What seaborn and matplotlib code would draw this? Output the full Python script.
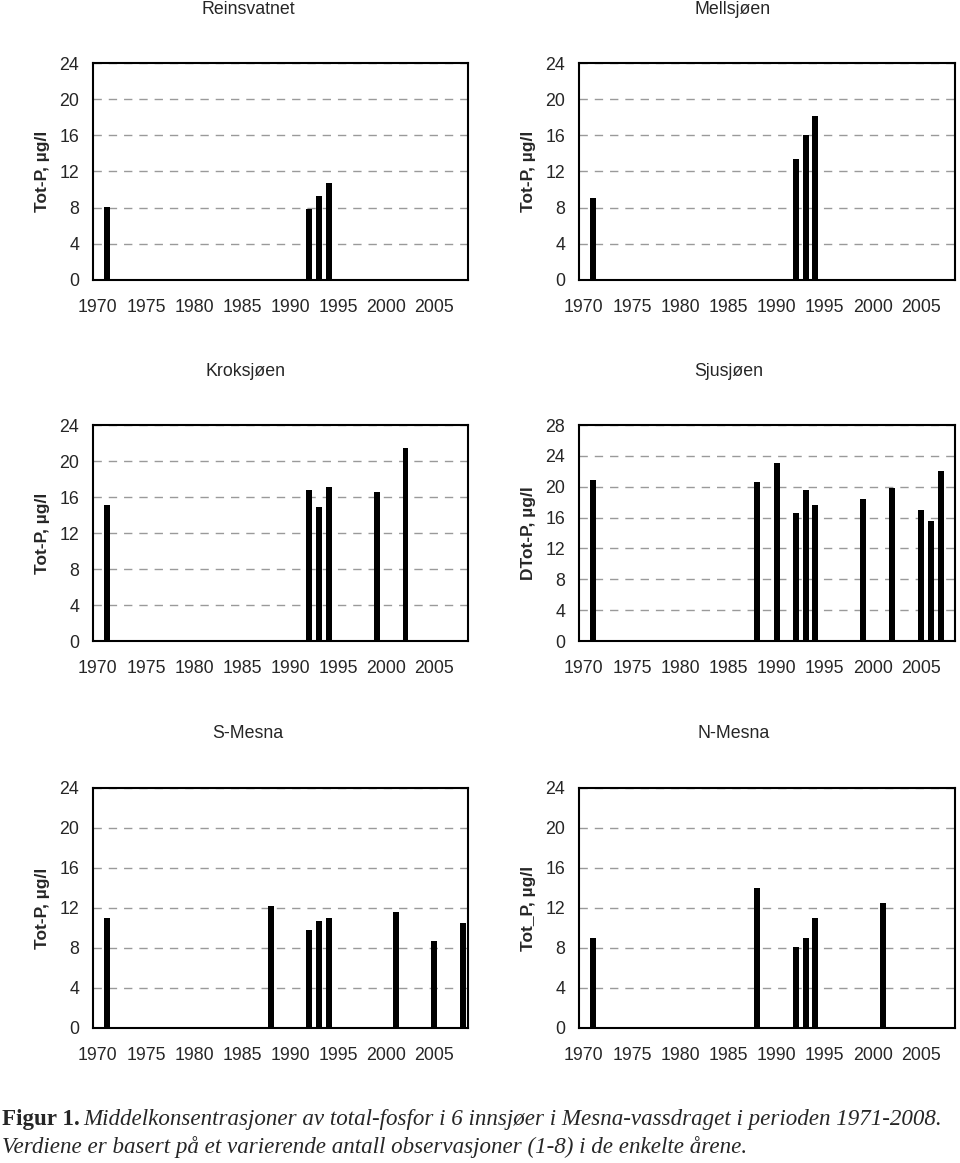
import numpy as np
import matplotlib
matplotlib.use("Agg")
import matplotlib.pyplot as plt
import seaborn as sns
from matplotlib.ticker import MultipleLocator, FixedLocator

# ---- data ----
rein_years = [1971, 1992, 1993, 1994]
rein_vals = [8.1, 7.8, 9.3, 10.7]

mell_years = [1971, 1992, 1993, 1994]
mell_vals = [9.1, 13.4, 16.0, 18.1]

krok_years = [1971, 1992, 1993, 1994, 1999, 2002]
krok_vals = [15.1, 16.8, 14.9, 17.1, 16.6, 21.5]

sjus_years = [1971, 1988, 1990, 1992, 1993, 1994, 1999, 2002, 2005, 2006, 2007]
sjus_vals = [20.9, 20.6, 23.1, 16.6, 19.6, 17.6, 18.4, 19.8, 17.0, 15.6, 22.1]

smes_years = [1971, 1988, 1992, 1993, 1994, 2001, 2005, 2008]
smes_vals = [11.0, 12.2, 9.8, 10.7, 11.0, 11.6, 8.7, 10.5]

nmes_years = [1971, 1988, 1992, 1993, 1994, 2001]
nmes_vals = [9.0, 14.0, 8.1, 9.0, 11.0, 12.5]

titles = ["Reinsvatnet", "Mellsjøen", "Kroksjøen", "Sjusjøen", "S-Mesna", "N-Mesna"]
ylabels = ["Tot-P, µg/l", "Tot-P, µg/l", "Tot-P, µg/l", "DTot-P, µg/l", "Tot-P, µg/l", "Tot_P, µg/l"]
year_ticks = [1970, 1975, 1980, 1985, 1990, 1995, 2000, 2005]

sns.set_style("white")
plt.rcParams['font.family'] = ['Liberation Sans', 'DejaVu Sans']

W, H = 960, 1163
fig = plt.figure(figsize=(W / 100, H / 100), dpi=100)


def add_ax(x0, y0, x1, y1):
    return fig.add_axes([x0 / W, 1 - y1 / H, (x1 - x0) / W, (y1 - y0) / H])


panels = [
    (rein_years, rein_vals, 24, (93, 63, 468, 280), 248, 9, 43),
    (mell_years, mell_vals, 24, (579, 63, 955, 280), 733, 9, 528),
    (krok_years, krok_vals, 24, (93, 425, 468, 641), 246, 372, 43),
    (sjus_years, sjus_vals, 28, (579, 425, 955, 641), 729, 372, 528),
    (smes_years, smes_vals, 24, (93, 788, 468, 1028), 248, 734, 43),
    (nmes_years, nmes_vals, 24, (579, 788, 955, 1028), 734, 734, 528),
]

fs = 12.8
for i, (yrs, vals, ymax, box, tx, ty, lx) in enumerate(panels):
    ax = add_ax(*box)
    sns.barplot(x=yrs, y=vals, native_scale=True, width=0.62, color="black",
                saturation=1, edgecolor="black", linewidth=0, ax=ax)
    ax.set_xlim(1969.5, 2008.5)
    ax.set_ylim(0, ymax)
    ax.xaxis.set_major_locator(FixedLocator(year_ticks))
    ax.set_xticklabels([str(y) for y in year_ticks])
    ax.xaxis.set_minor_locator(FixedLocator(np.arange(1969.5, 2009, 1.0)))
    ax.yaxis.set_major_locator(MultipleLocator(4))
    ax.yaxis.set_minor_locator(MultipleLocator(1))
    ax.tick_params(axis="x", which="major", length=0, pad=14, labelsize=fs)
    ax.tick_params(axis="x", which="minor", length=4, width=1, direction="out", color="black")
    ax.tick_params(axis="y", which="major", length=5, width=1, direction="out", pad=5, labelsize=fs, color="black")
    ax.tick_params(axis="y", which="minor", length=3, width=1, direction="out", color="black")
    ax.set_axisbelow(True)
    ax.yaxis.grid(True, which="major", linestyle=(0, (6, 5)), color="#9a9a9a", linewidth=1)
    ax.xaxis.grid(False)
    for s in ax.spines.values():
        s.set_visible(True)
        s.set_color("black")
        s.set_linewidth(1.5)
    ax.set_xlabel("")
    ax.set_ylabel("")
    cy = (box[1] + box[3]) / 2
    fig.text(lx / W, 1 - cy / H, ylabels[i], rotation=90, ha="center", va="center",
             fontsize=12.5, fontweight="bold")
    fig.text(tx / W, 1 - ty / H, titles[i], ha="center", va="center", fontsize=fs)

# caption
cap_fs = 16.6
t1 = fig.text(2 / W, 1 - 1120 / H, "Figur 1.", ha="left", va="center", fontsize=cap_fs,
              fontweight="bold", family="Liberation Serif")
fig.canvas.draw()
bb = t1.get_window_extent()
fig.text((bb.x1 + 4) / W, 1 - 1120 / H,
         "Middelkonsentrasjoner av total-fosfor i 6 innsjøer i Mesna-vassdraget i perioden 1971-2008.",
         ha="left", va="center", fontsize=cap_fs, style="italic", family="Liberation Serif")
fig.text(2 / W, 1 - 1147 / H,
         "Verdiene er basert på et varierende antall observasjoner (1-8) i de enkelte årene.",
         ha="left", va="center", fontsize=cap_fs, style="italic", family="Liberation Serif")

fig.savefig("out.png", dpi=100)
